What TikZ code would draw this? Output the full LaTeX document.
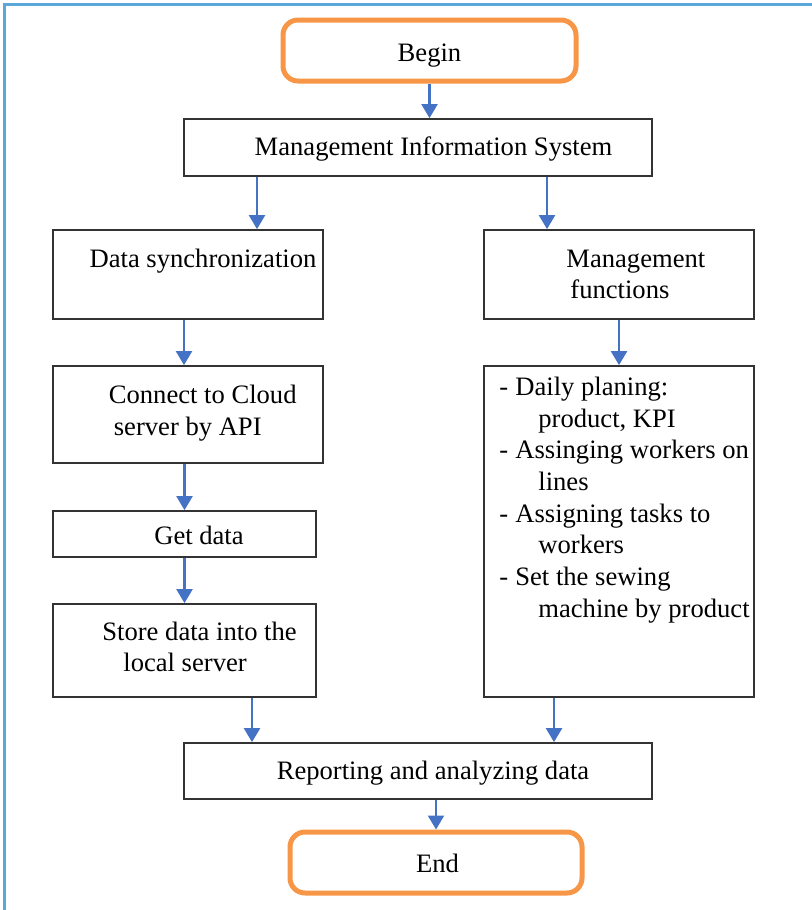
\documentclass[tikz,border=0pt]{standalone}
\usepackage{fontspec}
\setmainfont{Liberation Serif}
\usepackage{tikz}
\usetikzlibrary{arrows.meta,positioning,calc}
\definecolor{flowblue}{RGB}{68,114,196}
\definecolor{termorange}{RGB}{247,150,70}
\definecolor{framecyan}{RGB}{91,166,219}

\begin{document}
\begin{tikzpicture}[x=0.5pt,y=-0.5pt,
  font=\fontsize{13.3}{15.8}\selectfont,
  box/.style 2 args={draw=black!80,line width=0.9pt,inner sep=0pt,minimum width=#1,minimum height=#2},
  term/.style 2 args={draw=termorange,line width=2.5pt,rounded corners=7.5pt,inner sep=0pt,minimum width=#1,minimum height=#2},
  lbl/.style={inner sep=0pt,text height=0.7em,text depth=0.25em},
  lines/.style={inner sep=0pt,align=left,anchor=west},
  flow/.style={draw=flowblue,line width=1.2pt,-{Triangle[length=7pt,width=8pt]}}]
\useasboundingbox (0,0) rectangle (812,910);
\draw[framecyan,line width=1.25pt] (4.5,910) -- (4.5,4.5) -- (812,4.5);

\node[term={146.5pt}{30.5pt}] (begin) at (429.5,50.5) {};
\node[lbl] (begin-t) at (429.5,56.7) {Begin};
\node[box={234pt}{28.5pt}] (mis) at (418,147.5) {};
\node[lbl] (mis-t) at (433.5,151) {Management Information System};

\node[box={135pt}{44.5pt}] (sync) at (188,274.5) {};
\node[lbl] (sync-t) at (203,263) {Data synchronization};
\node[box={135pt}{48.5pt}] (cloud) at (188,414.5) {};
\node[lines] (cloud-t) at (108.5,413) {Connect to Cloud\\\hspace*{2.5pt}server by API};
\node[box={131.5pt}{23pt}] (get) at (184.5,534) {};
\node[lbl] (get-t) at (199,540) {Get data};
\node[box={131.5pt}{46.5pt}] (store) at (184.5,650.5) {};
\node[lines] (store-t) at (102,647) {Store data into the\\\hspace*{10.5pt}local server};

\node[box={135pt}{44.5pt}] (mgmt) at (619,274.5) {};
\node[lines] (mgmt-t) at (566,274.5) {Management\\\hspace*{2pt}functions};
\node[box={135pt}{165.5pt}] (tasks) at (619,531.5) {};
\node[lines,font=\fontsize{13.3}{15.85}\selectfont] (tasks-t) at (499,500) {%
  \makebox[8pt][l]{-}Daily planing:\\
  \hspace*{19.5pt}product, KPI\\
  \makebox[8pt][l]{-}Assinging workers on\\
  \hspace*{19.5pt}lines\\
  \makebox[8pt][l]{-}Assigning tasks to\\
  \hspace*{19.5pt}workers\\
  \makebox[8pt][l]{-}Set the sewing\\
  \hspace*{19.5pt}machine by product};

\node[box={234pt}{28pt}] (report) at (418,771) {};
\node[lbl] (report-t) at (433,775) {Reporting and analyzing data};
\node[term={146pt}{30.5pt}] (end) at (436,862.5) {};
\node[lbl] (end-t) at (437.5,867.7) {End};

\draw[flow] (begin.south) -- (begin.south |- mis.north);
\draw[flow] ([xshift=34.5pt]sync.north |- mis.south) -- ([xshift=34.5pt]sync.north);
\draw[flow] ([xshift=-36pt]mgmt.north |- mis.south) -- ([xshift=-36pt]mgmt.north);
\draw[flow] ([xshift=-2pt]sync.south) -- ([xshift=-2pt]cloud.north);
\draw[flow] (get.north |- cloud.south) -- (get.north);
\draw[flow] (get.south) -- (store.north);
\draw[flow] (mgmt.south) -- (tasks.north);
\draw[flow] ([xshift=33.75pt]store.south) -- ([xshift=33.75pt]store.south |- report.north);
\draw[flow] ([xshift=-32.5pt]tasks.south) -- ([xshift=-32.5pt]tasks.south |- report.north);
\draw[flow] (end.north |- report.south) -- (end.north);
\end{tikzpicture}
\end{document}
